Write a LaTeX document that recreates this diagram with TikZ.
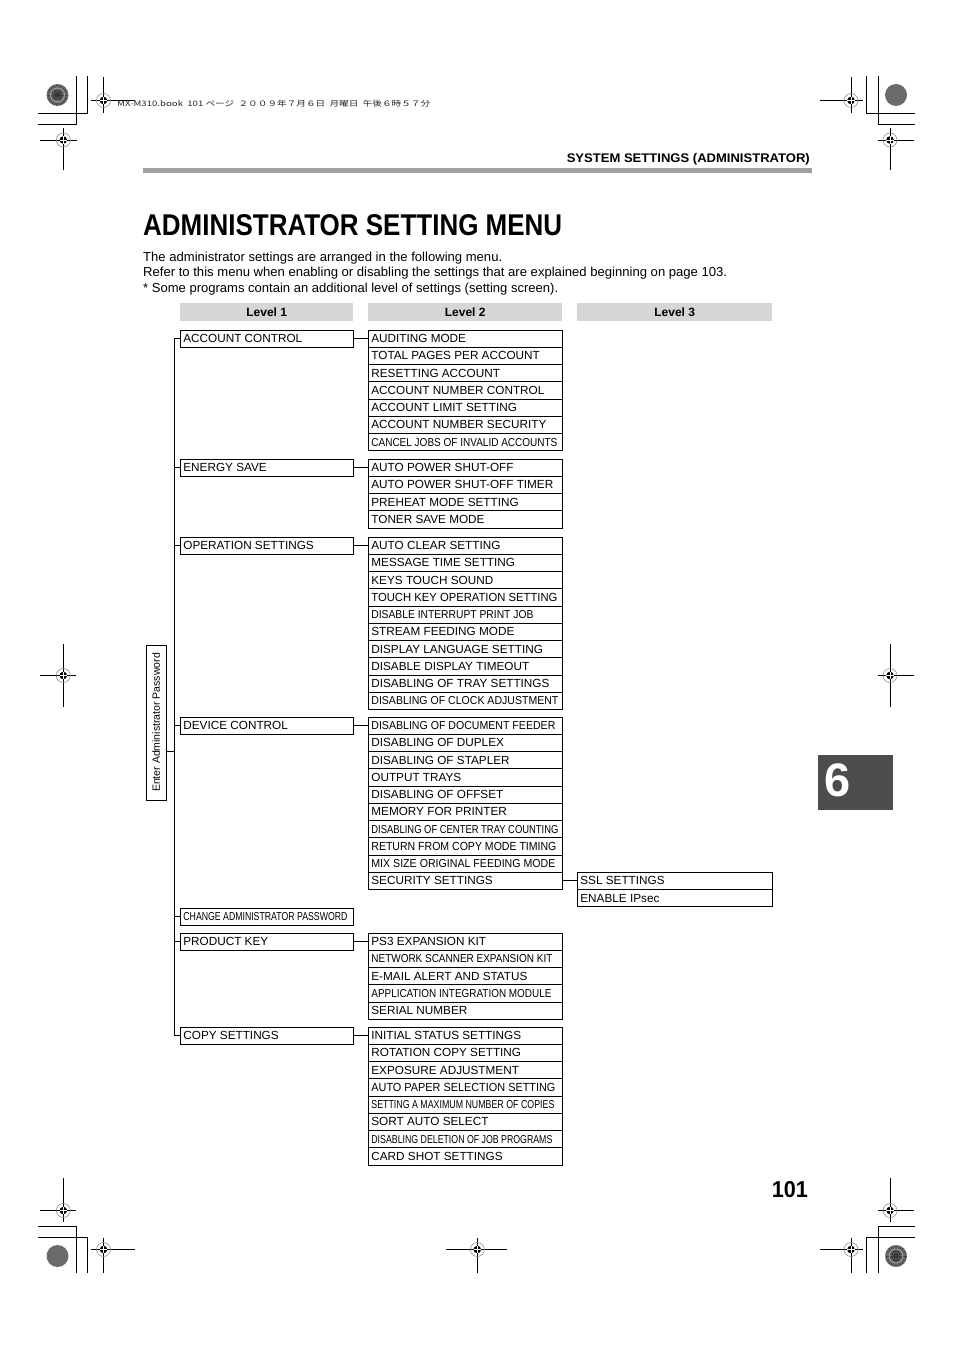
\documentclass[tikz,border=0pt]{standalone}
\usepackage{fontspec}
\usepackage{graphicx}
\setmainfont{Liberation Sans}
\newfontfamily\jpfont{Noto Sans CJK JP}
\definecolor{hdgray}{HTML}{D6D6D6}
\definecolor{bargray}{HTML}{A0A0A0}
\definecolor{tabgray}{HTML}{4D4D4D}
\newcommand\cz[2]{\resizebox{#1}{\height}{\fontsize{11.5pt}{13pt}\selectfont #2}}
\newcommand\fw[2]{\resizebox{#1}{\height}{#2}}
\newcommand\Lone[1]{\makebox[167pt][l]{#1}}
\newcommand\Ltwo[1]{\makebox[188pt][l]{#1}}
\newcommand\Lthree[1]{\makebox[189pt][l]{#1}}
\newcommand\regm[6]{%
  \draw[line width=.8pt] (#3,#2) -- (#4,#2) (#1,#5) -- (#1,#6);
  \draw[gray, line width=.5pt] (#1,#2) circle[radius=7pt];
  \fill (#1,#2) circle[radius=3.8pt];
  \draw[white, line width=.5pt] ({#1-3.8},#2) -- ({#1+3.8},#2) (#1,{#2-3.8}) -- (#1,{#2+3.8});
}
\newcommand\rosette[2]{%
  \fill[black!55] (#1,#2) circle[radius=11pt];
  \foreach \a in {0,12,...,348} \draw[black!75, line width=.7pt] (#1,#2) -- ++(\a:10.5pt);
  \draw[black!35, line width=1pt] (#1,#2) circle[radius=7pt];
  \fill[black!80] (#1,#2) circle[radius=2pt];
}
\newcommand\speck[2]{\fill[black!58] (#1,#2) circle[radius=11pt];}
\begin{document}
\begin{tikzpicture}[x=1pt,y=-1pt,
  bx/.style={draw, line width=.8pt, anchor=north west, inner xsep=3pt, inner ysep=0pt,
    minimum height=17.25pt, text height=8.4pt, text depth=0pt,
    font=\fontsize{11.75}{13}\selectfont},
  l1/.style={bx, minimum width=173pt},
  l2/.style={bx, minimum width=194pt},
  l3/.style={bx, minimum width=195pt},
  hd/.style={fill=hdgray, anchor=north west, inner sep=0pt, minimum height=18pt,
    text height=8.6pt, text depth=0pt, font=\bfseries\fontsize{12}{13}\selectfont},
  link/.style={line width=.8pt}]
\useasboundingbox[fill=white] (0,0) rectangle (954,1351);

% ---------- printer's marks ----------
\begin{scope}[line width=.8pt]
  \draw (76.7,76) -- (76.7,124.3) -- (38,124.3);
  \draw (87.3,76) -- (87.3,113.3) -- (38,113.3);
  \draw (866,76) -- (866,113.3) -- (915,113.3);
  \draw (878,76) -- (878,124.3) -- (915,124.3);
  \draw (76.7,1273) -- (76.7,1226.7) -- (38,1226.7);
  \draw (87.3,1273) -- (87.3,1237.7) -- (38,1237.7);
  \draw (878,1273) -- (878,1226.7) -- (915,1226.7);
  \draw (866,1273) -- (866,1237.7) -- (915,1237.7);
\end{scope}
\rosette{57.5}{95}
\speck{896}{95}
\speck{57.5}{1256}
\rosette{896}{1256}
\regm{103.5}{100.5}{91}{135}{77}{113}
\regm{63.3}{140}{40}{77}{128}{170}
\regm{851}{100.5}{820}{863}{77}{113}
\regm{890}{140}{878}{914}{128}{170}
\regm{63.3}{675.5}{40}{76}{644}{707}
\regm{890}{675.5}{878}{914}{644}{707}
\regm{63.3}{1210.5}{40}{76}{1178}{1222}
\regm{890}{1210.5}{878}{914}{1178}{1222}
\regm{103.5}{1249.5}{91}{135}{1238}{1273}
\regm{477.3}{1249.5}{446}{507}{1238}{1273}
\regm{851}{1249.5}{820}{863}{1238}{1273}

\node[anchor=base west, inner sep=0pt, text=black!85, font=\jpfont\fontsize{7.5}{8}\selectfont] (jp) at (117,107)
  {\fw{313pt}{MX-M310.book\ \ 101 ページ\ \ ２００９年７月６日\ \ 月曜日\ \ 午後６時５７分}};

% ---------- page header ----------
\node[anchor=base east, inner sep=0pt, font=\bfseries\fontsize{12.5}{14}\selectfont] (hdr) at (810,163)
  {\fw{243pt}{SYSTEM SETTINGS (ADMINISTRATOR)}};
\fill[bargray] (143,167.7) rectangle (812,173.3);
\node[anchor=base west, inner sep=0pt, font=\bfseries\fontsize{30}{32}\selectfont] (title) at (143,235.5)
  {\fw{419pt}{ADMINISTRATOR SETTING MENU}};
\node[anchor=base west, inner sep=0pt, font=\fontsize{13}{15}\selectfont] (t1) at (143,261.3)
  {\fw{359pt}{The administrator settings are arranged in the following menu.}};
\node[anchor=base west, inner sep=0pt, font=\fontsize{13}{15}\selectfont] (t2) at (143,276.6)
  {\fw{584pt}{Refer to this menu when enabling or disabling the settings that are explained beginning on page 103.}};
\node[anchor=base west, inner sep=0pt, font=\fontsize{13}{15}\selectfont] (t3) at (143,292)
  {\fw{415pt}{* Some programs contain an additional level of settings (setting screen).}};

% ---------- column heads ----------
\node[hd, minimum width=173pt] (h1) at (180,303) {Level 1};
\node[hd, minimum width=194pt] (h2) at (368,303) {Level 2};
\node[hd, minimum width=195pt] (h3) at (577,303) {Level 3};

% ---------- level 1 ----------
\node[l1] (L1A) at (180,329.5) {\Lone{ACCOUNT CONTROL}};
\node[l1] (L1E) at (180,458.5) {\Lone{ENERGY SAVE}};
\node[l1] (L1O) at (180,536.5) {\Lone{OPERATION SETTINGS}};
\node[l1] (L1D) at (180,716.5) {\Lone{DEVICE CONTROL}};
\node[l1] (L1X) at (180,907.5) {\Lone{\cz{164pt}{CHANGE ADMINISTRATOR PASSWORD}}};
\node[l1] (L1P) at (180,932.5) {\Lone{PRODUCT KEY}};
\node[l1] (L1C) at (180,1026.5) {\Lone{COPY SETTINGS}};

% ---------- level 2 ----------
\foreach \t [count=\i from 0] in {AUDITING MODE, TOTAL PAGES PER ACCOUNT, RESETTING ACCOUNT,
  ACCOUNT NUMBER CONTROL, ACCOUNT LIMIT SETTING, ACCOUNT NUMBER SECURITY,
  {\cz{186pt}{CANCEL JOBS OF INVALID ACCOUNTS}}}
  \node[l2] (A\i) at (368,{329.5+17.25*\i}) {\Ltwo{\t}};
\foreach \t [count=\i from 0] in {AUTO POWER SHUT-OFF, AUTO POWER SHUT-OFF TIMER,
  PREHEAT MODE SETTING, TONER SAVE MODE}
  \node[l2] (E\i) at (368,{458.5+17.25*\i}) {\Ltwo{\t}};
\foreach \t [count=\i from 0] in {AUTO CLEAR SETTING, MESSAGE TIME SETTING, KEYS TOUCH SOUND,
  {\fw{186pt}{TOUCH KEY OPERATION SETTING}}, {\cz{162pt}{DISABLE INTERRUPT PRINT JOB}},
  STREAM FEEDING MODE, DISPLAY LANGUAGE SETTING, DISABLE DISPLAY TIMEOUT,
  DISABLING OF TRAY SETTINGS, {\cz{187pt}{DISABLING OF CLOCK ADJUSTMENT}}}
  \node[l2] (O\i) at (368,{536.5+17.25*\i}) {\Ltwo{\t}};
\foreach \t [count=\i from 0] in {{\cz{184pt}{DISABLING OF DOCUMENT FEEDER}},
  DISABLING OF DUPLEX, DISABLING OF STAPLER, OUTPUT TRAYS, DISABLING OF OFFSET,
  MEMORY FOR PRINTER, {\cz{187pt}{DISABLING OF CENTER TRAY COUNTING}},
  {\fw{185pt}{RETURN FROM COPY MODE TIMING}}, {\cz{184pt}{MIX SIZE ORIGINAL FEEDING MODE}},
  SECURITY SETTINGS}
  \node[l2] (D\i) at (368,{716.5+17.25*\i}) {\Ltwo{\t}};
\foreach \t [count=\i from 0] in {PS3 EXPANSION KIT, {\cz{181pt}{NETWORK SCANNER EXPANSION KIT}},
  E-MAIL ALERT AND STATUS, {\cz{180pt}{APPLICATION INTEGRATION MODULE}}, SERIAL NUMBER}
  \node[l2] (P\i) at (368,{932.5+17.25*\i}) {\Ltwo{\t}};
\foreach \t [count=\i from 0] in {INITIAL STATUS SETTINGS, ROTATION COPY SETTING,
  EXPOSURE ADJUSTMENT, {\fw{184pt}{AUTO PAPER SELECTION SETTING}},
  {\cz{183pt}{SETTING A MAXIMUM NUMBER OF COPIES}}, SORT AUTO SELECT,
  {\cz{181pt}{DISABLING DELETION OF JOB PROGRAMS}}, CARD SHOT SETTINGS}
  \node[l2] (C\i) at (368,{1026.5+17.25*\i}) {\Ltwo{\t}};

% ---------- level 3 ----------
\node[l3] (S0) at (577,871.75) {\Lthree{SSL SETTINGS}};
\node[l3] (S1) at (577,889) {\Lthree{ENABLE IPsec}};

% ---------- connectors ----------
\draw[link] (L1A.east) -- (A0.west);
\draw[link] (L1E.east) -- (E0.west);
\draw[link] (L1O.east) -- (O0.west);
\draw[link] (L1D.east) -- (D0.west);
\draw[link] (L1P.east) -- (P0.west);
\draw[link] (L1C.east) -- (C0.west);
\draw[link] (D9.east) -- (S0.west);

\coordinate (brT) at ([xshift=-6pt]L1A.west);
\draw[link] (L1A.west) -- (brT) |- (L1C.west);
\foreach \n in {L1E,L1O,L1D,L1X,L1P}
  \draw[link] (\n.west) -- (\n.west -| brT);

\node[draw, line width=.8pt, rotate=90, minimum width=155pt, minimum height=20pt, inner sep=0pt,
  font=\fontsize{10.5}{12}\selectfont] (pw) at (156,722.5) {Enter Administrator Password};
\coordinate (pwc) at (166,751);
\draw[link] (pwc) -- (pwc -| brT);

% ---------- chapter tab and folio ----------
\fill[tabgray] (818,755) rectangle (893,810);
\node[text=white, inner sep=0pt, font=\bfseries\fontsize{47}{50}\selectfont] (tab) at (838,780.5) {6};
\node[anchor=base east, inner sep=0pt, font=\bfseries\fontsize{23}{26}\selectfont] (folio) at (808,1197) {\fw{36pt}{101}};
\end{tikzpicture}
\end{document}
